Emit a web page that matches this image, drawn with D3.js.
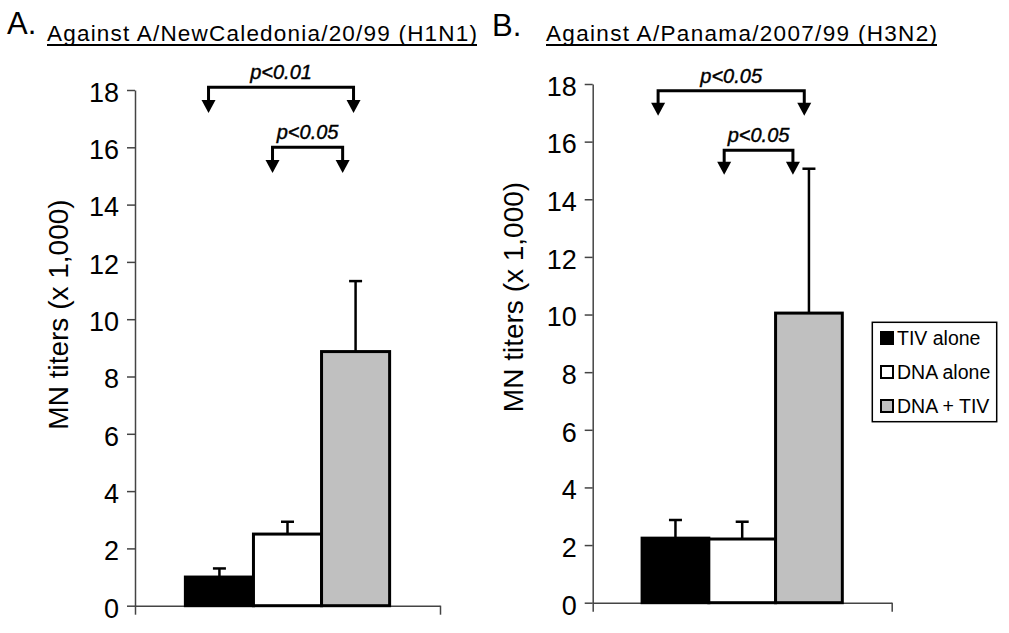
<!DOCTYPE html>
<html><head><meta charset="utf-8">
<script src="https://cdn.jsdelivr.net/npm/d3@7"></script>
<style>
html,body{margin:0;padding:0;background:#fff;}
svg text{font-family:"Liberation Sans",Arial,sans-serif;fill:#000;}
</style></head>
<body><svg id="chart" width="1009" height="633"></svg>
<script>
// ---- data ----
const categories = ["TIV alone", "DNA alone", "DNA + TIV"];
const fills = ["#000000", "#ffffff", "#c0c0c0"];
const yTicks = [0, 2, 4, 6, 8, 10, 12, 14, 16, 18];

const meansA = [1.0, 2.5, 8.87];
const errorsA = [0.3, 0.43, 2.46];
const meansB = [2.24, 2.21, 10.05];
const errorsB = [0.63, 0.6, 5.01];

const titleLetters = ["A.", "B."];
const titles = ["Against A/NewCaledonia/20/99 (H1N1)", "Against A/Panama/2007/99 (H3N2)"];
const yLabel = "MN titers (x 1,000)";

// significance brackets: [fromIndex, toIndex, fromFrac, toFrac, level, tip, label]
const bracketsA = [
  [0, 2, 0.34, 0.47, 18.1, 17.2, "p<0.01"],
  [1, 2, 0.28, 0.31, 16.0, 15.1, "p<0.05"]
];
const bracketsB = [
  [0, 2, 0.24, 0.43, 17.77, 16.9, "p<0.05"],
  [1, 2, 0.23, 0.26, 15.7, 14.85, "p<0.05"]
];

const svg = d3.select("#chart");

function panel(cfg) {
  const g = svg.append("g");
  const y = d3.scaleLinear().domain([0, 18]).range([cfg.y0, cfg.y18]);
  const x = d3.scaleBand().domain(categories).range([cfg.xl, cfg.xr]).paddingInner(0).paddingOuter(0.74);
  const xe = d3.scaleLinear().domain([0, 1]).range([cfg.xl, cfg.xr]);

  // x axis (edge ticks only)
  const xa = g.append("g").attr("transform", `translate(0,${cfg.y0})`)
    .call(d3.axisBottom(xe).tickValues([0, 1]).tickSize(9).tickSizeOuter(0).tickFormat(""));
  xa.selectAll("path,line").attr("stroke", "#444").attr("stroke-width", 1.5);

  // y axis
  const ya = g.append("g").attr("transform", `translate(${cfg.xl},0)`)
    .call(d3.axisLeft(y).tickValues(yTicks).tickSize(8).tickSizeOuter(0).tickPadding(8));
  ya.selectAll("path,line").attr("stroke", "#444").attr("stroke-width", 1.5);
  ya.selectAll("text").attr("font-size", 27).attr("dy", "0.42em");

  // y label
  g.append("text")
    .attr("transform", `translate(${cfg.labelX},${cfg.labelY}) rotate(-90)`)
    .attr("text-anchor", "middle").attr("font-size", 28).text(yLabel);

  // bars
  g.selectAll("rect.bar").data(cfg.means).join("rect").attr("class", "bar")
    .attr("x", (d, i) => x(categories[i]))
    .attr("y", d => y(d))
    .attr("width", x.bandwidth())
    .attr("height", d => y(0) - y(d))
    .attr("fill", (d, i) => fills[i])
    .attr("stroke", "#000").attr("stroke-width", 3);

  // error bars (upper only)
  const eb = g.selectAll("g.err").data(cfg.means).join("g").attr("class", "err");
  eb.append("line")
    .attr("x1", (d, i) => x(categories[i]) + x.bandwidth() / 2)
    .attr("x2", (d, i) => x(categories[i]) + x.bandwidth() / 2)
    .attr("y1", d => y(d))
    .attr("y2", (d, i) => y(d + cfg.errors[i]))
    .attr("stroke", "#000").attr("stroke-width", 2.5);
  eb.append("line")
    .attr("x1", (d, i) => x(categories[i]) + x.bandwidth() / 2 - 6.5)
    .attr("x2", (d, i) => x(categories[i]) + x.bandwidth() / 2 + 6.5)
    .attr("y1", (d, i) => y(d + cfg.errors[i]))
    .attr("y2", (d, i) => y(d + cfg.errors[i]))
    .attr("stroke", "#000").attr("stroke-width", 2.5);

  // brackets
  cfg.brackets.forEach(b => {
    const [fi, ti, ff, tf, lvl, tip, lab] = b;
    const x1 = x(categories[fi]) + ff * x.bandwidth();
    const x2 = x(categories[ti]) + tf * x.bandwidth();
    const yl = y(lvl), yt = y(tip);
    const ah = 13, aw = 7;
    g.append("path")
      .attr("d", `M${x1},${yt - ah + 1}V${yl}H${x2}V${yt - ah + 1}`)
      .attr("fill", "none").attr("stroke", "#000").attr("stroke-width", 3);
    [x1, x2].forEach(xx => {
      g.append("path")
        .attr("d", `M${xx - aw},${yt - ah}L${xx + aw},${yt - ah}L${xx},${yt}Z`)
        .attr("fill", "#000");
    });
    g.append("text").attr("x", (x1 + x2) / 2).attr("y", yl - 8)
      .attr("text-anchor", "middle").attr("font-size", 20)
      .attr("font-style", "italic").attr("stroke", "#000").attr("stroke-width", 0.4)
      .text(lab);
  });

  // title
  g.append("text").attr("x", cfg.letterX).attr("y", cfg.letterY)
    .attr("font-size", 31).text(cfg.letter);
  g.append("text").attr("x", cfg.titleX).attr("y", 41)
    .attr("font-size", 22.5).attr("textLength", cfg.titleLen).attr("lengthAdjust", "spacing")
    .text(cfg.title);
  g.append("line").attr("x1", cfg.titleX).attr("x2", cfg.titleX + cfg.titleLen)
    .attr("y1", 45).attr("y2", 45).attr("stroke", "#000").attr("stroke-width", 2);

  return { x, y };
}

panel({
  xl: 135, xr: 440, y0: 605.7, y18: 90,
  means: meansA, errors: errorsA, brackets: bracketsA,
  labelX: 68, labelY: 314.5,
  letter: titleLetters[0], letterX: 7, letterY: 34,
  title: titles[0], titleX: 47, titleLen: 430
});
panel({
  xl: 592.7, xr: 891.7, y0: 602.7, y18: 84,
  means: meansB, errors: errorsB, brackets: bracketsB,
  labelX: 523, labelY: 297,
  letter: titleLetters[1], letterX: 492, letterY: 36,
  title: titles[1], titleX: 546, titleLen: 391
});

// legend
const lg = svg.append("g");
lg.append("rect").attr("x", 872.3).attr("y", 322.3).attr("width", 124.4).attr("height", 99.4)
  .attr("fill", "#fff").attr("stroke", "#000").attr("stroke-width", 1.5);
const rowY = d3.scalePoint().domain(categories).range([338, 406]);
categories.forEach((c, i) => {
  lg.append("rect").attr("x", 881).attr("y", rowY(c) - 6).attr("width", 12).attr("height", 12)
    .attr("fill", fills[i]).attr("stroke", "#000").attr("stroke-width", 2);
  lg.append("text").attr("x", 897).attr("y", rowY(c)).attr("dy", "0.36em")
    .attr("font-size", 19.5).text(c);
});
</script>
</body></html>
